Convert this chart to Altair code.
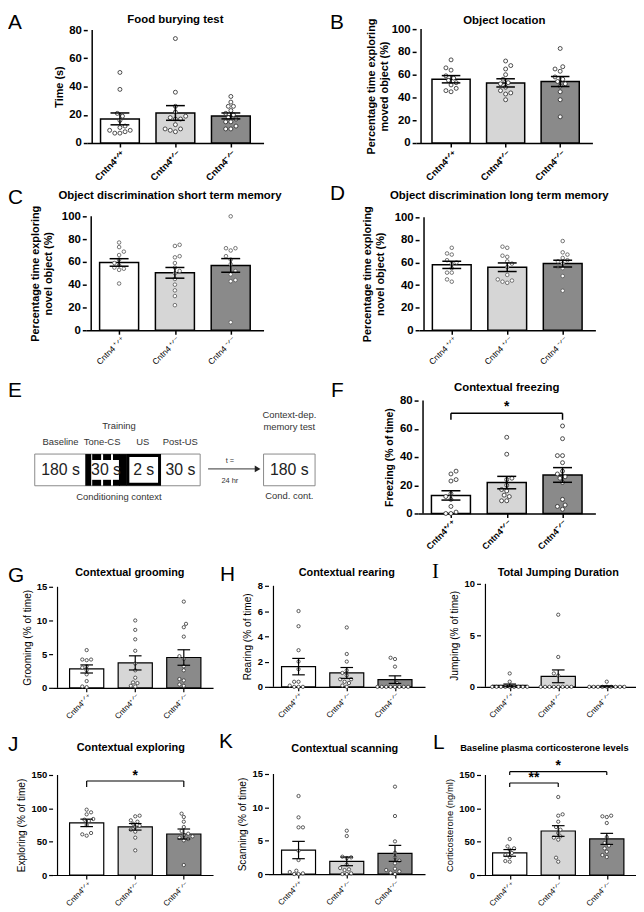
import altair as alt
import pandas as pd

FONT = "Liberation Sans"
NARROW = "Liberation Sans Narrow, Arial Narrow, Liberation Sans"
GROUP_IDS = [1, 2, 3]
GROUP_KEYS = ["wt", "het", "ko"]
BAR_COLORS = ["#ffffff", "#d6d6d6", "#8a8a8a"]
LAB_TIGHT = ["Cntn4\u207a\u141f\u207a", "Cntn4\u207a\u141f\u207b", "Cntn4\u207b\u141f\u207b"]
LAB_SPACED = ["Cntn4 \u207a\u141f\u207a", "Cntn4 \u207a\u141f\u207b", "Cntn4 \u207b\u141f\u207b"]
DEBUG = False

# ---------------- data ----------------
a_wt = [50, 38, 21, 19, 16, 12, 11, 9, 9, 8, 7, 7]
a_het = [74, 36, 26, 22, 19, 18, 17, 17, 13, 10, 10, 9, 8]
a_ko = [33, 29, 26, 26, 23, 21, 20, 18, 17, 15, 15, 12, 10, 10]
a_mean = [17.1, 21.3, 19.2]
a_sem = [4.2, 5.2, 2.1]
b_wt = [73, 66, 64, 59, 57, 55, 53, 51, 48, 46, 45]
b_het = [72, 68, 65, 60, 56, 53, 52, 49, 46, 44, 43, 38]
b_ko = [83, 67, 65, 63, 58, 56, 54, 52, 50, 45, 38, 23]
b_mean = [56.0, 52.8, 54.0]
b_sem = [3.2, 3.6, 4.4]
c_wt = [77, 73, 69, 66, 62, 59, 57, 55, 54, 53, 41]
c_het = [75, 74, 65, 64, 59, 55, 52, 50, 45, 40, 35, 30, 22]
c_ko = [100, 72, 72, 70, 65, 62, 58, 52, 49, 44, 43, 7]
c_mean = [59.5, 50.4, 56.9]
c_sem = [3.3, 4.7, 6.0]
d_wt = [73, 68, 67, 62, 60, 59, 55, 51, 51, 45, 43]
d_het = [74, 73, 66, 65, 61, 59, 56, 49, 45, 44, 43, 42]
d_ko = [79, 69, 67, 64, 62, 61, 59, 56, 55, 48, 35]
d_mean = [57.9, 55.8, 59.0]
d_sem = [3.2, 3.8, 3.0]
f_wt = [30, 28, 24, 23, 14, 12, 10, 5, 1, 0, 0]
f_het = [54, 42, 25, 24, 20, 17, 16, 13, 12, 9, 9]
f_ko = [62, 53, 41, 41, 36, 30, 28, 26, 25, 22, 10, 6, 5, 3]
f_mean = [12.8, 21.9, 27.3]
f_sem = [3.3, 4.4, 5.2]
g_wt = [5.6, 4.2, 4.2, 4.1, 3.2, 3.0, 2.6, 2.0, 1.0, 0.2, 0.1]
g_het = [10.0, 8.6, 7.2, 5.5, 3.6, 2.6, 1.5, 0.8, 0.7, 0.3, 0.2]
g_ko = [12.8, 9.5, 9.0, 7.6, 4.7, 4.3, 3.2, 2.6, 1.3, 1.1, 0.5, 0.3]
g_mean = [2.8, 3.7, 4.5]
g_sem = [0.6, 1.05, 1.15]
h_wt = [6.0, 4.8, 2.9, 2.0, 1.4, 0.4, 0.4, 0.1, 0.0, 0.0, 0.0]
h_het = [4.7, 2.6, 2.0, 1.3, 1.1, 0.9, 0.6, 0.6, 0.4, 0.3, 0.1, 0.0]
h_ko = [2.3, 2.2, 1.6, 0.3, 0.0, 0.0, 0.0, 0.0, 0.0, 0.0, 0.0, 0.0]
h_mean = [1.6, 1.1, 0.57]
h_sem = [0.65, 0.43, 0.3]
i_wt = [1.3, 0.5, 0, 0, 0, 0, 0, 0, 0, 0, 0]
i_het = [7.0, 2.9, 1.3, 1.1, 0, 0, 0, 0, 0, 0, 0, 0]
i_ko = [0.5, 0, 0, 0, 0, 0, 0, 0, 0, 0]
i_mean = [0.14, 1.02, 0.05]
i_sem = [0.13, 0.62, 0.05]
j_wt = [98, 94, 91, 84, 83, 81, 75, 63, 61, 59]
j_het = [89, 88, 82, 80, 77, 74, 72, 68, 65, 56, 37]
j_ko = [92, 87, 80, 72, 66, 62, 60, 58, 56, 54, 52, 15]
j_mean = [78.2, 72.3, 61.5]
j_sem = [5.6, 4.9, 7.5]
k_wt = [11.7, 8.5, 7.0, 7.0, 3.5, 2.1, 0.5, 0.3, 0.1, 0.0, 0.0]
k_het = [6.5, 5.7, 2.6, 2.5, 2.4, 1.4, 0.9, 0.7, 0.6, 0.1, 0.0, 0.0]
k_ko = [13.1, 8.7, 4.9, 3.2, 2.5, 2.0, 1.6, 0.8, 0.6, 0.4, 0.2, 0.0]
k_mean = [3.6, 1.9, 3.1]
k_sem = [1.3, 0.65, 1.2]
l_wt = [54, 43, 40, 38, 33, 30, 27, 21, 20]
l_het = [117, 91, 89, 80, 72, 68, 63, 58, 56, 53, 26, 20]
l_ko = [89, 88, 87, 78, 57, 48, 44, 40, 35, 30, 27]
l_mean = [33.2, 66.0, 54.2]
l_sem = [5.0, 8.0, 8.3]

f_brackets = [(1, 3, 71, 4.6, "*", 72.5)]
j_brackets = [(1, 3, 141, 9, "*", 143)]
l_brackets = [(1, 3, 155, 5, "*", 157), (1, 2, 138, 6, "**", 140)]

# ---------------- Panel E schematic (diagram units) ----------------
e_box_x1 = [27, 258]
e_box_x2 = [194, 310]
e_box_y1 = [54, 54]
e_box_y2 = [86, 86]
e_blk_x1 = [78, 85, 96, 106, 85, 96, 106, 112]
e_blk_x2 = [84, 94, 104, 113, 94, 104, 113, 120]
e_blk_y1 = [54, 54, 54, 54, 80, 80, 80, 54]
e_blk_y2 = [86, 60, 60, 60, 86, 86, 86, 86]
e_us_x = [121, 153]
e_us_y = [55.5, 84.5]
e_big_txt = ["180 s", "30 s", "2 s", "30 s", "180 s"]
e_big_x = [53, 99, 137, 174, 284]
e_big_y = [70, 70, 70, 70, 70]
e_lab_txt = ["Training", "Baseline", "Tone-CS", "US", "Post-US", "Conditioning context",
             "Context-dep.", "memory test", "Cond. cont."]
e_lab_x = [112, 53, 95, 136, 174, 112, 284, 284, 284]
e_lab_y = [26, 42, 42, 42, 42, 97, 15, 27, 96]
e_small_txt = ["t =", "24 hr"]
e_small_x = [224, 224]
e_small_y = [61, 81]
e_arrow = [202, 250, 69]

STY = {
    "big": dict(xl=9.5, xlw="bold", yl=11.5, ylw="bold", yt=11, ytw="bold", line=1.5, pt=16,
                ptd=5.0, ptc="#222222", cap=0.17, tfs=11.5, labels=LAB_TIGHT),
    "mid": dict(xl=8.5, xlw="normal", yl=11.5, ylw="bold", yt=11, ytw="bold", line=1.5, pt=13,
                ptd=4.6, ptc="#555555", cap=0.17, tfs=11.5, labels=LAB_SPACED),
    "f": dict(xl=9, xlw="bold", yl=11.5, ylw="bold", yt=10.5, ytw="bold", line=1.5, pt=16,
              ptd=5.0, ptc="#222222", cap=0.17, tfs=11.5, labels=LAB_TIGHT),
    "small": dict(xl=8, xlw="normal", yl=9.5, ylw="bold", yt=10.2, ytw="normal", line=1.2, pt=11,
                  ptd=4.3, ptc="#333333", cap=0.13, tfs=11, labels=LAB_TIGHT),
}


def swarm(vals, ppy, ppx, d):
    order = sorted(range(len(vals)), key=lambda i: vals[i])
    placed = []
    out = [0.0] * len(vals)
    for n, i in enumerate(order):
        y = vals[i] * ppy
        step = d * 0.55
        k = 0
        chosen = None
        while chosen is None:
            if k == 0:
                cands = [0.0]
            else:
                cands = [k * step, -k * step] if n % 2 == 0 else [-k * step, k * step]
            for c in cands:
                if all((c - px) ** 2 + (y - py) ** 2 >= d * d * 0.9 for px, py in placed):
                    chosen = c
                    break
            k += 1
        placed.append((chosen, y))
        out[i] = chosen / ppx
    return out


def text_layer(txt, x, y, size, weight="normal", align="left", font=FONT):
    return alt.Chart(pd.DataFrame({"t": [txt]})).mark_text(
        font=font, fontSize=size, fontWeight=weight, align=align, baseline="alphabetic",
        color="black").encode(x=alt.value(x), y=alt.value(y), text="t:N")


def spacer_layer(x, y1, y2):
    return alt.Chart(pd.DataFrame({"t": [0]})).mark_rule(
        color="red", strokeOpacity=1 if DEBUG else 0, strokeWidth=2).encode(
        x=alt.value(x), y=alt.value(y1), y2=alt.value(y2))


def dummy(w, row_h=1):
    return spacer_layer(0, 0, row_h).properties(width=w, height=1)


def bar_panel(groups, mean, sem, ymax, yticks, ytitle, title, letter, w, h, tm, xdom, sty,
              tpad, tdx, tdy, ldx, ldy, brackets=(), tfs=None, ytfs=None, letter_font=FONT):
    s = STY[sty]
    ht = h + tm
    unit = w / (xdom[1] - xdom[0])
    ppy = h / ymax
    ytop = ymax * ht / h
    xs = alt.Scale(domain=xdom, nice=False, zero=False)
    ys = alt.Scale(domain=[0, ytop], nice=False, zero=True)
    expr = "[" + ",".join("'%s'" % l for l in s["labels"]) + "][datum.value - 1]"
    xaxis = alt.Axis(values=[1, 2, 3], labelExpr=expr, labelAngle=-45, title=None, grid=False,
                     ticks=True, tickSize=4, tickColor="black", tickWidth=s["line"],
                     domainColor="black", domainWidth=s["line"], labelFont=FONT,
                     labelFontSize=s["xl"], labelFontWeight=s["xlw"], labelColor="black",
                     labelPadding=1, labelOverlap=False, labelFlush=False, labelBound=False)
    yaxis = alt.Axis(values=yticks, title=ytitle, grid=False, ticks=True, tickSize=4,
                     tickColor="black", tickWidth=s["line"], domain=False,
                     labelFont=FONT, labelFontSize=s["yl"],
                     labelFontWeight=s["ylw"], labelColor="black", labelPadding=2,
                     labelOverlap=False, labelFlush=False, titleFont=FONT,
                     titleFontSize=ytfs or s["yt"], titleFontWeight=s["ytw"], titleColor="black",
                     titlePadding=tpad, titleLineHeight=(ytfs or s["yt"]) + 2,
                     titleY=tm + h / 2)
    XQ = lambda f: alt.X(f, scale=xs, axis=xaxis)
    YQ = lambda f: alt.Y(f, scale=ys, axis=yaxis)
    lo = [m - e for m, e in zip(mean, sem)]
    hi = [m + e for m, e in zip(mean, sem)]
    bdf = pd.DataFrame({"g": GROUP_IDS, "m": mean, "lo": lo, "hi": hi, "c": GROUP_KEYS})
    bars = alt.Chart(bdf).mark_bar(size=0.66 * unit, stroke="black", strokeWidth=s["line"],
                                   orient="vertical").encode(
        x=XQ("g:Q"), y=YQ("m:Q"), y2=alt.datum(0),
        fill=alt.Fill("c:N", scale=alt.Scale(domain=GROUP_KEYS, range=BAR_COLORS), legend=None),
    )
    rows = []
    for gi, vals in zip(GROUP_IDS, groups):
        offs = swarm(vals, ppy, unit, s["ptd"])
        for v, o in zip(vals, offs):
            rows.append({"xj": gi + o, "v": v})
    pdf = pd.DataFrame(rows)
    pts = alt.Chart(pdf).mark_point(shape="circle", size=s["pt"], filled=False, fill="white",
                                    fillOpacity=1, stroke=s["ptc"], strokeWidth=0.8,
                                    opacity=1).encode(x=XQ("xj:Q"), y=YQ("v:Q"))
    err = alt.Chart(bdf).mark_rule(color="black", strokeWidth=s["line"]).encode(
        x=XQ("g:Q"), y=YQ("lo:Q"), y2="hi:Q")
    cap = s["cap"]
    cdf = pd.DataFrame({"xl": [g - cap for g in GROUP_IDS] * 2,
                        "xr": [g + cap for g in GROUP_IDS] * 2,
                        "cy": lo + hi})
    caps = alt.Chart(cdf).mark_rule(color="black", strokeWidth=s["line"]).encode(
        x=XQ("xl:Q"), x2="xr:Q", y=YQ("cy:Q"))
    adf = pd.DataFrame({"x": [xdom[0]], "y0": [0], "y1": [ymax]})
    axline = alt.Chart(adf).mark_rule(color="black", strokeWidth=s["line"]).encode(
        x=XQ("x:Q"), y=YQ("y0:Q"), y2="y1:Q")
    layers = [bars, pts, err, caps, axline]
    if brackets:
        seg = []
        st = []
        for g1, g2, yb, drop, lab, yl in brackets:
            seg.append({"x": g1, "x2": g2, "y": yb, "y2": yb})
            seg.append({"x": g1, "x2": g1, "y": yb, "y2": yb - drop})
            seg.append({"x": g2, "x2": g2, "y": yb, "y2": yb - drop})
            st.append({"x": (g1 + g2) / 2, "y": yl, "t": lab})
        layers.append(alt.Chart(pd.DataFrame(seg)).mark_rule(color="black", strokeWidth=s["line"]).encode(
            x=XQ("x:Q"), x2="x2:Q", y=YQ("y:Q"), y2="y2:Q"))
        layers.append(alt.Chart(pd.DataFrame(st)).mark_text(
            font=FONT, fontSize=14, fontWeight="bold", baseline="alphabetic", color="black").encode(
            x=XQ("x:Q"), y=YQ("y:Q"), text="t:N"))
    layers.append(text_layer(title, w / 2 + tdx, tm + tdy, tfs or s["tfs"], "bold", "center"))
    layers.append(text_layer(letter, ldx, tm + ldy, 21, "normal", "left", letter_font))
    return alt.layer(*layers).properties(width=w, height=ht)


def panel_e(w, h, tm, row_h):
    ht = h + tm
    ex = alt.Scale(domain=[0, w], nice=False, zero=False)
    ey = alt.Scale(domain=[ht - tm, -tm], nice=False, zero=False)
    X = lambda f: alt.X(f, scale=ex, axis=None)
    Y = lambda f: alt.Y(f, scale=ey, axis=None)
    boxes = alt.Chart(pd.DataFrame({"x1": e_box_x1, "x2": e_box_x2, "y1": e_box_y1, "y2": e_box_y2})).mark_rect(
        fill="white", stroke="#8a8a8a", strokeWidth=1).encode(x=X("x1:Q"), x2="x2:Q", y=Y("y1:Q"), y2="y2:Q")
    blk = alt.Chart(pd.DataFrame({"x1": e_blk_x1, "x2": e_blk_x2, "y1": e_blk_y1, "y2": e_blk_y2})).mark_rect(
        fill="black").encode(x=X("x1:Q"), x2="x2:Q", y=Y("y1:Q"), y2="y2:Q")
    us = alt.Chart(pd.DataFrame({"x1": [e_us_x[0]], "x2": [e_us_x[1]], "y1": [e_us_y[0]], "y2": [e_us_y[1]]})).mark_rect(
        fill="white", stroke="black", strokeWidth=3).encode(x=X("x1:Q"), x2="x2:Q", y=Y("y1:Q"), y2="y2:Q")
    big = alt.Chart(pd.DataFrame({"t": e_big_txt, "x": e_big_x, "y": e_big_y})).mark_text(
        font=NARROW, fontSize=16, baseline="middle", align="center", color="#222222").encode(
        x=X("x:Q"), y=Y("y:Q"), text="t:N")
    lab = alt.Chart(pd.DataFrame({"t": e_lab_txt, "x": e_lab_x, "y": e_lab_y})).mark_text(
        font=FONT, fontSize=9.5, baseline="middle", align="center", color="#333333").encode(
        x=X("x:Q"), y=Y("y:Q"), text="t:N")
    small = alt.Chart(pd.DataFrame({"t": e_small_txt, "x": e_small_x, "y": e_small_y})).mark_text(
        font=FONT, fontSize=7.5, baseline="middle", align="center", color="#333333").encode(
        x=X("x:Q"), y=Y("y:Q"), text="t:N")
    arr = alt.Chart(pd.DataFrame({"x1": [e_arrow[0]], "x2": [e_arrow[1]], "y": [e_arrow[2]]})).mark_rule(
        color="#333333", strokeWidth=1).encode(x=X("x1:Q"), x2="x2:Q", y=Y("y:Q"))
    head = alt.Chart(pd.DataFrame({"x": [e_arrow[1] + 2], "y": [e_arrow[2]]})).mark_point(
        shape="triangle-right", filled=True, color="#222222", size=45, opacity=1).encode(x=X("x:Q"), y=Y("y:Q"))
    lay = [boxes, blk, us, big, lab, small, arr, head,
           text_layer("E", 0, tm - 4, 21, "normal", "left"), spacer_layer(0, 0, row_h)]
    return alt.layer(*lay).properties(width=w, height=ht)


A = bar_panel([a_wt, a_het, a_ko], a_mean, a_sem, 80, [0, 20, 40, 60, 80], "Time (s)",
              "Food burying test", "A", 178, 114, 17, [0.5, 3.5], "big", 4, 0, -7, -80, -1)
B = bar_panel([b_wt, b_het, b_ko], b_mean, b_sem, 100, [0, 20, 40, 60, 80, 100],
              ["Percentage time exploring", "moved object (%)"], "Object location", "B",
              178, 115, 16, [0.45, 3.5], "big", 2, 0, -5, -87, 0)
C = bar_panel([c_wt, c_het, c_ko], c_mean, c_sem, 100, [0, 20, 40, 60, 80, 100],
              ["Percentage time exploring", "novel object (%)"],
              "Object discrimination short term memory", "C", 179, 115, 34, [0.5, 3.5], "mid",
              8, -5, -17, -79, -12)
D = bar_panel([d_wt, d_het, d_ko], d_mean, d_sem, 100, [0, 20, 40, 60, 80, 100],
              ["Percentage time exploring", "novel object (%)"],
              "Object discrimination long term memory", "D", 178, 114, 35, [0.5, 3.5], "mid",
              9, -8, -18, -90, -17)
E = panel_e(322, 114, 32, 188)
F = bar_panel([f_wt, f_het, f_ko], f_mean, f_sem, 80, [0, 20, 40, 60, 80], "Freezing (% of time)",
              "Contextual freezing", "F", 179, 114, 32, [0.5, 3.5], "f", 5, 0, -10, -88, -4,
              brackets=f_brackets)
G = bar_panel([g_wt, g_het, g_ko], g_mean, g_sem, 15, [0, 5, 10, 15], "Grooming (% of time)",
              "Contextual grooming", "G", 162, 102, 32, [0.4, 3.5], "small", 4, -3, -11, -45, -5)
H = bar_panel([h_wt, h_het, h_ko], h_mean, h_sem, 8, [0, 2, 4, 6, 8], "Rearing (% of time)",
              "Contextual rearing", "H", 158, 102, 31, [0.48, 3.52], "small", 5, 0, -10, -49, -5)
I = bar_panel([i_wt, i_het, i_ko], i_mean, i_sem, 10, [0, 5, 10], "Jumping (% of time)",
              "Total Jumping Duration", "I", 157, 104, 29, [0.5, 3.5], "small", 5, 0, -8, -49, -6,
              letter_font="Liberation Serif")
J = bar_panel([j_wt, j_het, j_ko], j_mean, j_sem, 150, [0, 50, 100, 150], "Exploring (% of time)",
              "Contextual exploring", "J", 162, 101, 40, [0.4, 3.5], "small", 4, -2, -24, -45, -24,
              brackets=j_brackets)
K = bar_panel([k_wt, k_het, k_ko], k_mean, k_sem, 15, [0, 5, 10, 15], "Scanning (% of time)",
              "Contextual scanning", "K", 158, 101, 39, [0.48, 3.52], "small", 5, -2, -22, -50, -26)
L = bar_panel([l_wt, l_het, l_ko], l_mean, l_sem, 150, [0, 50, 100, 150], "Corticosterone (ng/ml)",
              "Baseline plasma corticosterone levels", "L", 157, 101, 40, [0.5, 3.5], "small", 4,
              -14, -24, -48, -26, brackets=l_brackets, tfs=9.4, ytfs=9.5)

row1 = alt.hconcat(dummy(50, 170), A, dummy(94), B, spacing=30, bounds="flush")
row2 = alt.hconcat(dummy(49, 186), C, dummy(97), D, spacing=30, bounds="flush")
row3 = alt.hconcat(E, F, spacing=92, bounds="flush")
row4 = alt.hconcat(dummy(25, 178), G, dummy(16), H, dummy(16), I, spacing=20, bounds="flush")
row5 = alt.hconcat(dummy(25, 172), J, dummy(16), K, dummy(16), L, spacing=20, bounds="flush")

chart = alt.vconcat(row1, row2, row3, row4, row5, spacing=0).properties(
    padding={"left": 0, "top": 0, "right": 0, "bottom": 0}
).configure(font=FONT).configure_view(stroke=None)

chart.save("out.html", embed_options={"renderer": "svg", "actions": False})
